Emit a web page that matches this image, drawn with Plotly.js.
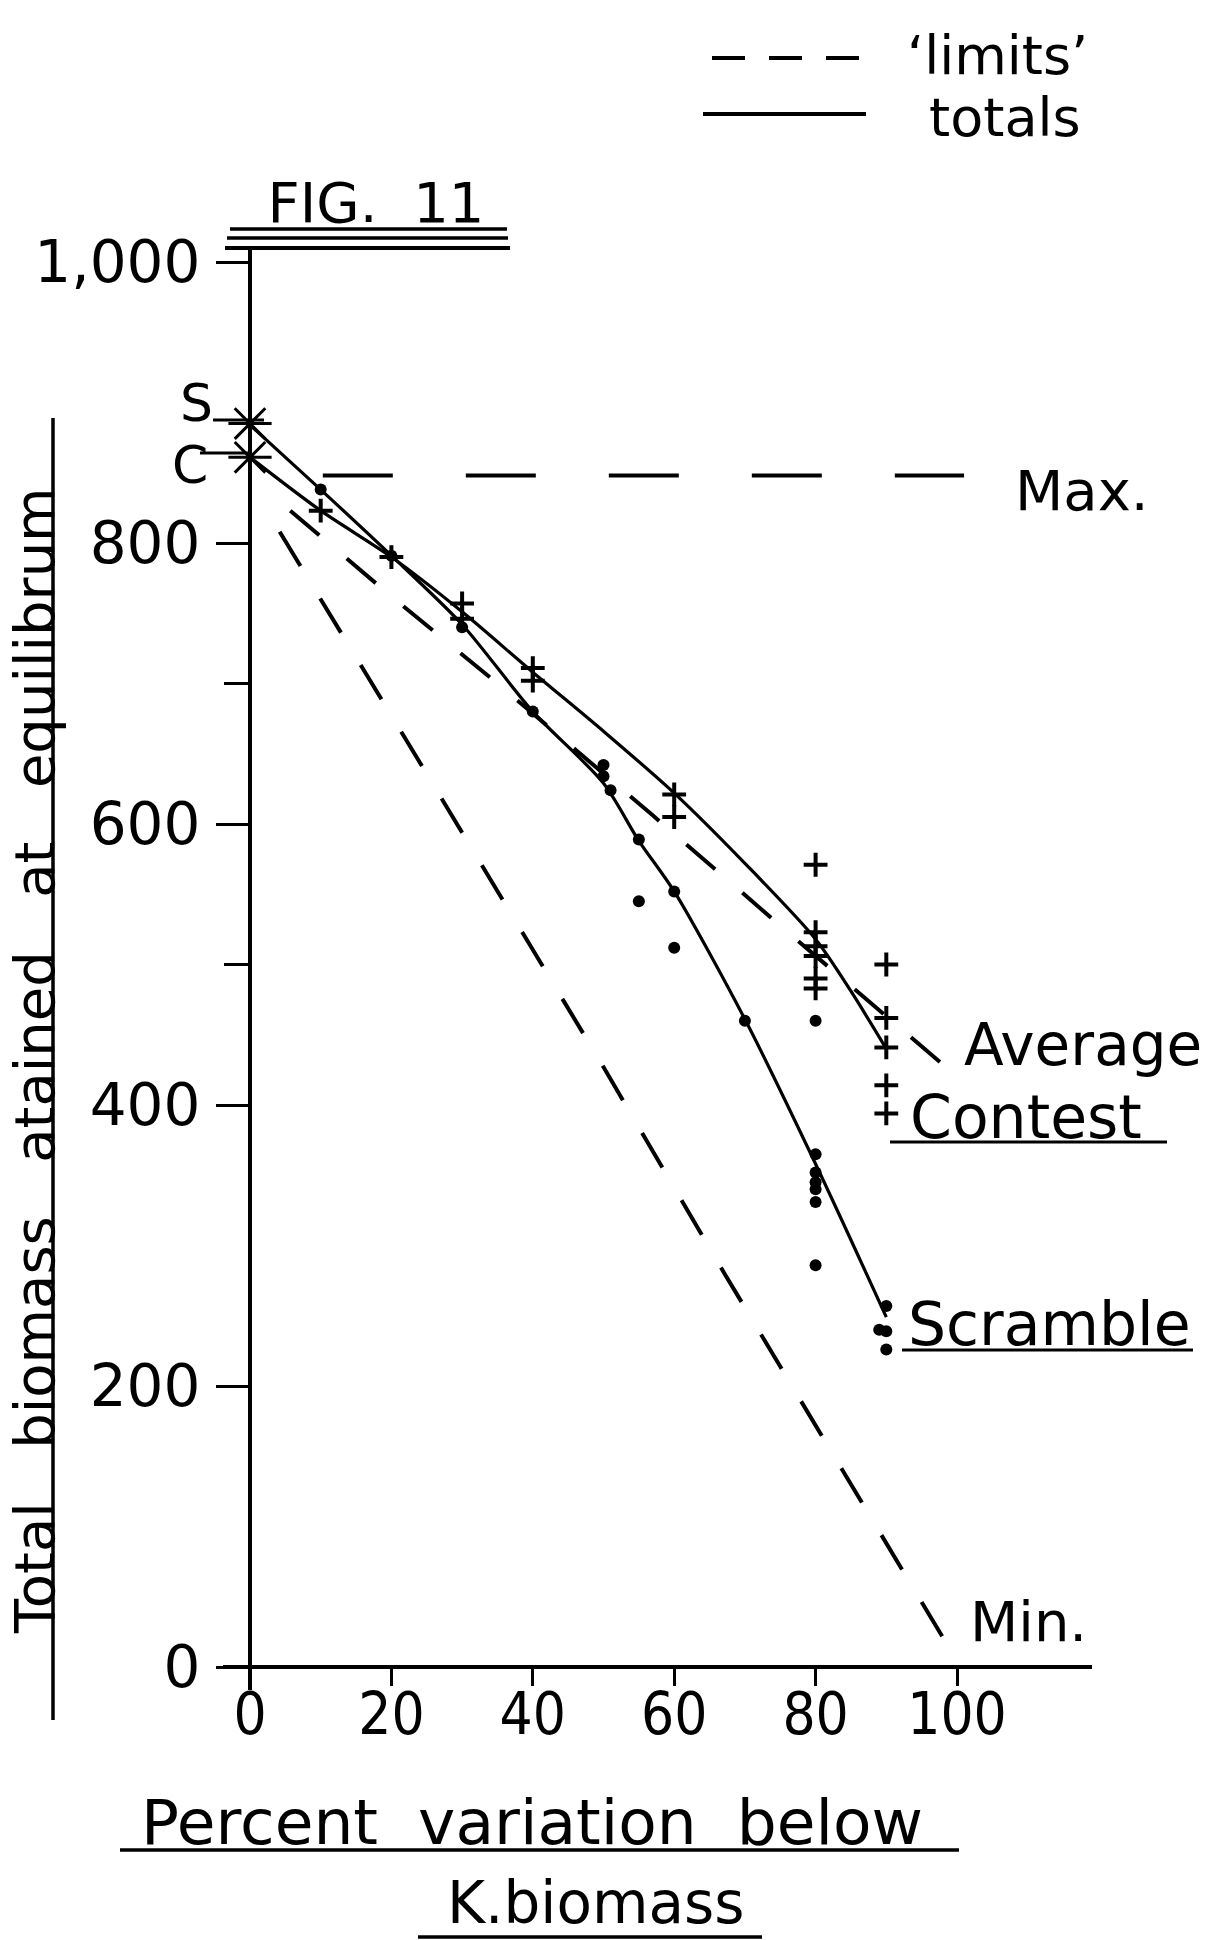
<!DOCTYPE html>
<html>
<head>
<meta charset="utf-8">
<script src="https://cdn.plot.ly/plotly-3.0.1.min.js"></script>
<style>
html,body{margin:0;padding:0;background:#fff;}
#chart{width:1219px;height:1940px;}
</style>
</head>
<body>
<div id="chart"></div>
<script>
// ---------------- data ----------------
// 'totals' curves (solid)
const scrambleCurveX = [0, 10, 20, 30, 40, 50, 55, 60, 70, 80, 90];
const scrambleCurveY = [884, 838, 791, 742, 680, 629, 588, 552, 461, 358, 249];
const contestCurveX  = [0, 10, 20, 30, 40, 50, 60, 70, 80, 85, 90];
const contestCurveY  = [861, 823, 790, 751, 708, 666, 622, 572, 518, 481, 440];

// replicate observations
const scramblePointsX = [10, 20, 30, 40, 50, 50, 51, 55, 55, 60, 60, 70, 80, 80, 80, 80, 80, 80, 80, 90, 89, 90, 90];
const scramblePointsY = [838, 791, 740, 680, 642, 634, 624, 589, 545, 552, 512, 460, 460, 365, 352, 345, 340, 331, 286, 257, 240, 239, 226];
const contestPointsX  = [10, 20, 30, 30, 40, 40, 60, 60, 80, 80, 80, 80, 80, 80, 90, 90, 90, 90, 90];
const contestPointsY  = [823, 790, 757, 746, 711, 702, 621, 605, 571, 523, 513, 506, 490, 483, 500, 462, 441, 414, 394];

// starting values at 0 % (S = scramble, C = contest)
const startX = [0, 0];
const startY = [885, 861];
const startLabels = ['S', 'C'];

// 'limits' (dashed)
const maxX = [10.3, 101];
const maxY = [848, 848];
const avgX = [5.7, 20, 35, 57, 77, 101];
const avgY = [823, 762, 700, 606, 519, 416];
const minX = [4.2, 24, 50, 67, 98];
const minY = [808, 644, 427, 281, 21];

// axis ticks
const xTickVals = [0, 20, 40, 60, 80, 100];
const xTickText = ['0', '20', '40', '60', '80', '100'];
const yTickVals = [0, 200, 400, 600, 800, 1000];
const yTickText = ['0', '200', '400', '600', '800', '1,000'];
const yMinorVals = [500, 700];

// ---------------- geometry of the drawing ----------------
const W = 1219, H = 1940;
const X0PX = 250, XPU = 7.07;   // pixel of x=0, pixels per unit
const Y0PX = 1667, YPU = 1.405; // pixel of y=0, pixels per unit
const xRange = [-X0PX / XPU, (W - X0PX) / XPU];
const yRange = [(Y0PX - H) / YPU, Y0PX / YPU];
const dx = px => (px - X0PX) / XPU;
const dy = py => (Y0PX - py) / YPU;

const INK = '#000';
const SANS = 'DejaVu Sans, Noto Sans, sans-serif';
const NARROW = 'Liberation Sans Narrow, DejaVu Sans Condensed, DejaVu Sans, sans-serif';
const SP = '\u00a0\u00a0\u00a0';

const traces = [
  {x: maxX, y: maxY, mode: 'lines', line: {color: INK, width: 4, dash: '70px,73px'}, name: 'Max.'},
  {x: avgX, y: avgY, mode: 'lines', line: {color: INK, width: 4, dash: '38px,36px'}, name: 'Average'},
  {x: minX, y: minY, mode: 'lines', line: {color: INK, width: 4, dash: '40px,38px'}, name: 'Min.'},
  {x: contestCurveX, y: contestCurveY, mode: 'lines', line: {color: INK, width: 3.2, shape: 'spline', smoothing: 0.8}, name: 'Contest'},
  {x: scrambleCurveX, y: scrambleCurveY, mode: 'lines', line: {color: INK, width: 3.2, shape: 'spline', smoothing: 0.8}, name: 'Scramble'},
  {x: contestPointsX, y: contestPointsY, mode: 'markers', marker: {symbol: 'cross-thin-open', size: 17, color: INK, line: {color: INK, width: 4}}, name: 'Contest obs.'},
  {x: scramblePointsX, y: scramblePointsY, mode: 'markers', marker: {symbol: 'circle', size: 12, color: INK}, name: 'Scramble obs.'},
  {x: startX, y: startY, mode: 'markers', text: startLabels, marker: {symbol: 'asterisk-open', size: 36, color: INK, line: {color: INK, width: 3}}, name: 'start'}
];

const ann = (text, px, py, size, extra) => Object.assign({
  text: text, x: dx(px), y: dy(py), xref: 'x', yref: 'y', showarrow: false,
  xanchor: 'left', yanchor: 'middle', font: {family: SANS, size: size, color: INK}
}, extra || {});

const annotations = [
  ann('\u2018limits\u2019', 905, 55, 54),
  ann('totals', 927, 117, 54),
  ann('Max.', 1013, 490, 56),
  ann('Average', 962, 1045, 58),
  ann('Contest', 908, 1117, 60),
  ann('Scramble', 906, 1324, 60),
  ann('Min.', 968, 1621, 56),
  ann('S', 196, 403, 52, {xanchor: 'center'}),
  ann('C', 190, 465, 52, {xanchor: 'center'}),
  ann('Total' + SP + 'biomass' + SP + 'atained' + SP + 'at' + SP + 'equilibrum', 34, 1061, 56, {xanchor: 'center', textangle: -90}),
  ann('Percent\u00a0\u00a0variation\u00a0\u00a0below', 532, 1822, 63, {xanchor: 'center'}),
  ann('K.biomass', 595, 1903, 58, {xanchor: 'center'})
];

const seg = (x0, y0, x1, y1, w, dash) => ({
  type: 'line', xref: 'x', yref: 'y', x0: dx(x0), y0: dy(y0), x1: dx(x1), y1: dy(y1),
  line: {color: INK, width: w, dash: dash || 'solid'}, layer: 'above'
});

const shapes = [
  // axes
  seg(223, Y0PX, 1092, Y0PX, 4),
  seg(X0PX, 1690, X0PX, 248, 4),
  // FIG. 11 triple rule
  seg(230, 229, 507, 229, 3.5),
  seg(227, 238, 508, 238, 3.5),
  seg(225, 248, 510, 248, 4),
  // S / C pointers
  seg(213, 420, 264, 420, 3),
  seg(200, 453, 252, 453, 3),
  // legend samples
  seg(712, 58, 862, 58, 4, '33px,24px'),
  seg(703, 114, 866, 114, 4),
  // underlines
  seg(890, 1142, 1167, 1142, 3),
  seg(902, 1350, 1193, 1350, 3),
  seg(120, 1850, 959, 1850, 3.5),
  seg(418, 1937, 762, 1937, 3.5),
  seg(53, 418, 53, 1720, 3.5)
];

const layout = {
  width: W, height: H,
  margin: {l: 0, r: 0, t: 0, b: 0, pad: 0},
  paper_bgcolor: '#fff', plot_bgcolor: '#fff',
  showlegend: false,
  title: {
    text: 'FIG.\u00a0\u00a011', x: 376 / W, y: 1 - 202 / H, xref: 'paper', yref: 'container',
    xanchor: 'center', yanchor: 'middle', font: {family: SANS, size: 56, color: INK}
  },
  xaxis: {
    range: xRange, domain: [0, 1], anchor: 'free',
    position: (0 - yRange[0]) / (yRange[1] - yRange[0]),
    showline: false, zeroline: false, showgrid: false,
    tickmode: 'array', tickvals: xTickVals, ticktext: xTickText,
    ticks: 'outside', ticklen: 18, tickwidth: 3, tickcolor: INK,
    ticklabelstandoff: -22,
    tickfont: {family: NARROW, size: 58, color: INK},
    fixedrange: true
  },
  yaxis: {
    range: yRange, domain: [0, 1], anchor: 'free',
    position: (0 - xRange[0]) / (xRange[1] - xRange[0]),
    showline: false, zeroline: false, showgrid: false,
    tickmode: 'array', tickvals: yTickVals, ticktext: yTickText,
    ticks: 'outside', ticklen: 34, tickwidth: 3, tickcolor: INK,
    ticklabelstandoff: 4,
    minor: {tickmode: 'array', tickvals: yMinorVals, ticks: 'outside', ticklen: 26, tickwidth: 3, tickcolor: INK, showgrid: false},
    tickfont: {family: SANS, size: 58, color: INK},
    fixedrange: true
  },
  annotations: annotations,
  shapes: shapes
};

Plotly.newPlot('chart', traces, layout, {displayModeBar: false, staticPlot: true});
</script>
</body>
</html>
